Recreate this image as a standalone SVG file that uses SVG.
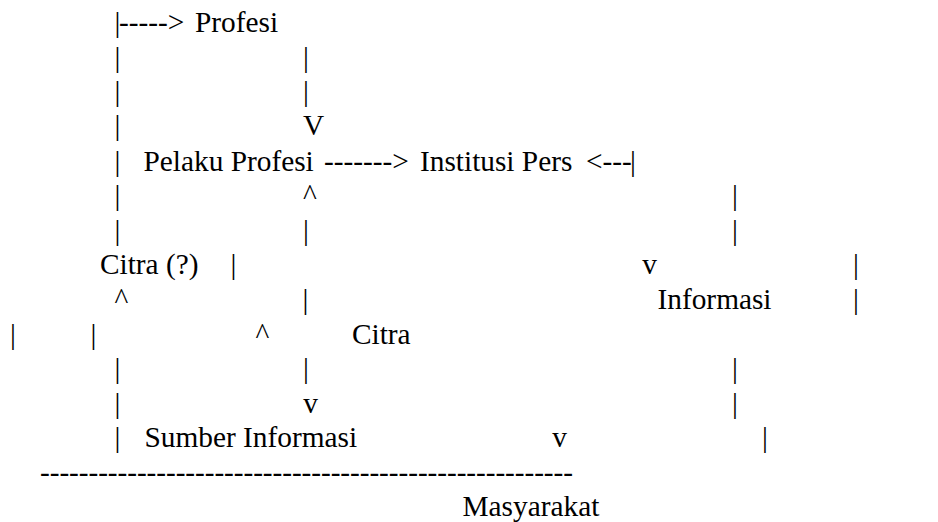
<svg xmlns="http://www.w3.org/2000/svg" width="938" height="522" viewBox="0 0 938 522">
<style>
.m{text-anchor:middle}
</style>
<rect width="938" height="522" fill="#fff"/>
<g font-family="Liberation Serif, Times New Roman, serif" font-size="29.33" fill="#000">
<g id="connectors">
<text class="m" x="117.5" y="32">|</text>
<text x="119" y="32">-----&gt;</text>
<text class="m" x="117.5" y="67">|</text><text class="m" x="306" y="67">|</text>
<text class="m" x="117.5" y="101">|</text><text class="m" x="306" y="101">|</text>
<text class="m" x="117.5" y="135">|</text><text class="m" x="313.5" y="135">V</text>
<text class="m" x="117.5" y="171">|</text>
<text x="324" y="171">-------&gt;</text>
<text x="586" y="171">&lt;---</text><text class="m" x="633" y="171">|</text>
<text class="m" x="117.5" y="205">|</text><text class="m" x="310" y="205">^</text><text class="m" x="735" y="205">|</text>
<text class="m" x="117.5" y="240">|</text><text class="m" x="306" y="240">|</text><text class="m" x="735" y="240">|</text>
<text class="m" x="233.5" y="274">|</text><text class="m" x="649.7" y="274">v</text><text class="m" x="856" y="274">|</text>
<text class="m" x="121.5" y="309">^</text><text class="m" x="305.5" y="309">|</text><text class="m" x="856" y="309">|</text>
<text class="m" x="13" y="344">|</text><text class="m" x="93.5" y="344">|</text><text class="m" x="262.5" y="344">^</text>
<text class="m" x="117.5" y="378">|</text><text class="m" x="306" y="378">|</text><text class="m" x="735" y="378">|</text>
<text class="m" x="117.5" y="413">|</text><text class="m" x="310.5" y="413">v</text><text class="m" x="735" y="413">|</text>
<text class="m" x="117.5" y="447">|</text><text class="m" x="559.5" y="447">v</text><text class="m" x="765" y="447">|</text>
<text x="40" y="482" textLength="533" lengthAdjust="spacing">-------------------------------------------------------</text>
</g>
<g id="profesi"><text x="195" y="32">Profesi</text></g>
<g id="pelaku-profesi"><text x="143.5" y="171">Pelaku Profesi</text></g>
<g id="institusi-pers"><text x="420" y="171">Institusi Pers</text></g>
<g id="citra-q"><text x="100" y="274">Citra (?)</text></g>
<g id="informasi"><text x="657.5" y="309">Informasi</text></g>
<g id="citra"><text x="352" y="344">Citra</text></g>
<g id="sumber-informasi"><text x="144.5" y="447">Sumber Informasi</text></g>
<g id="masyarakat"><text x="462.5" y="516">Masyarakat</text></g>
</g>
</svg>
